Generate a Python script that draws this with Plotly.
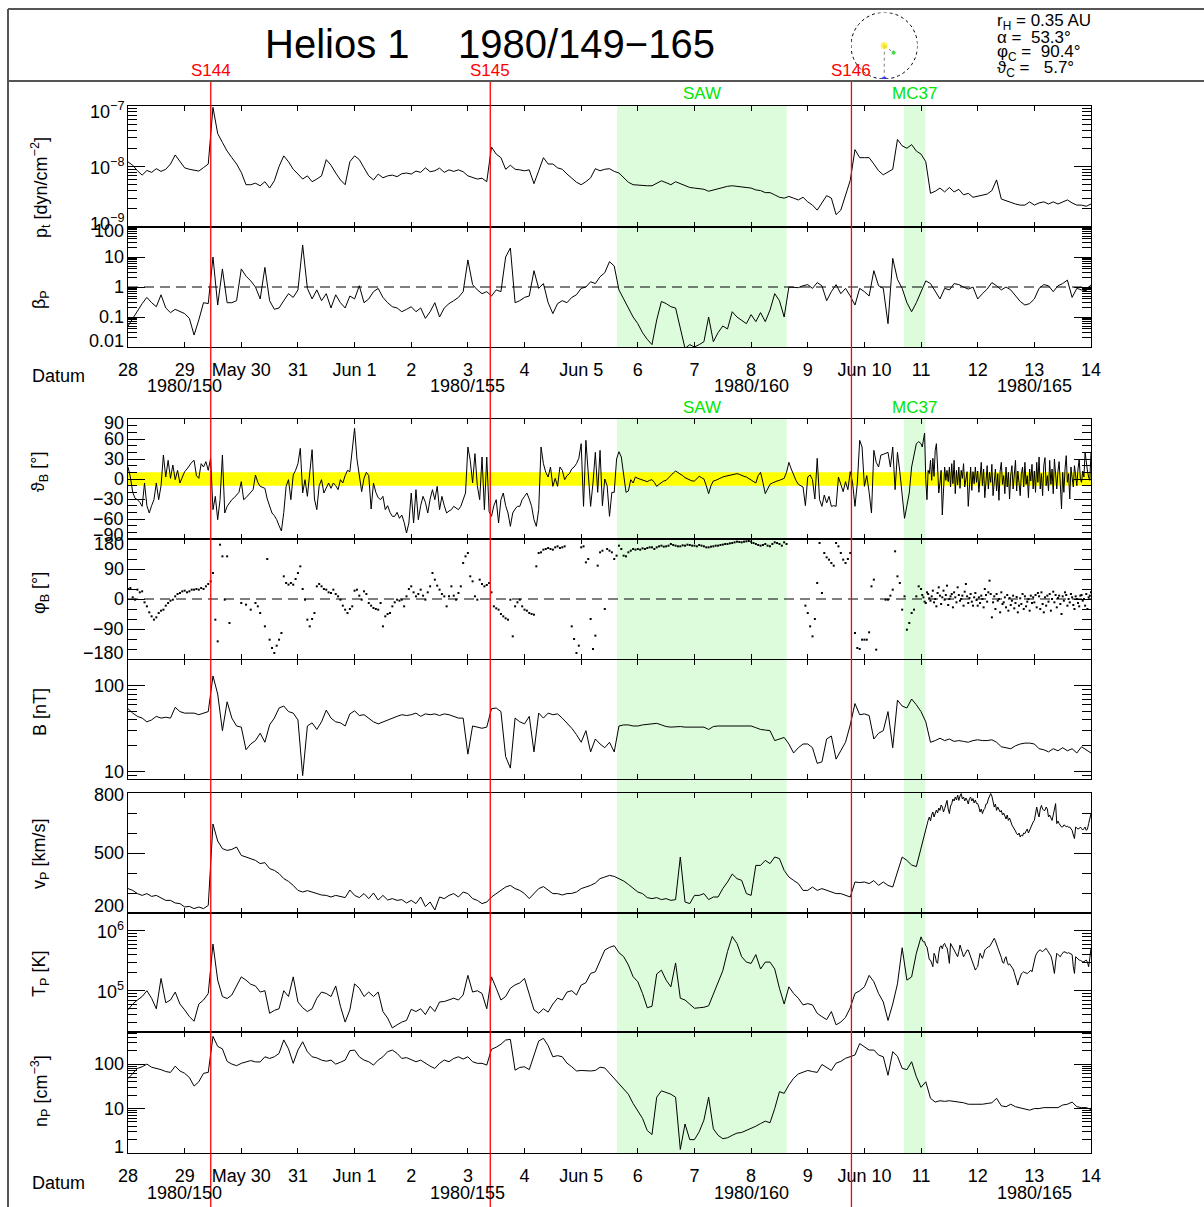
import math
import plotly.graph_objects as go

# ---------------------------------------------------------------------------
# Helios 1 plasma and magnetic field, 1980 day 149-166
# ---------------------------------------------------------------------------
# plasma moments: 2-hourly samples for the whole interval
DOY = [149 + k / 12 for k in range(205)]
# speed and temperature: 2-hourly up to day 163, half-hourly afterwards
DOY_FINE = DOY[:168] + [163 + k / 48 for k in range(145)]
# field direction: hourly up to day 163, half-hourly afterwards
DOY_ANG = [149 + k / 24 for k in range(336)] + [163 + k / 48 for k in range(145)]

# total pressure in units of 1e-9 dyn/cm^2
PT_E9 = [
    11.9, 10.5, 8.5, 7.2, 8.6, 8.0, 9.2, 8.3, 9.0, 11.0, 15.5, 12.0,
    9.5, 9.0, 8.8, 8.4, 9.6, 11.0, 95, 35, 25, 18, 14, 11,
    8.0, 5.0, 5.0, 5.3, 4.8, 5.6, 4.4, 5.8, 10.0, 15.0, 12.0, 9.0,
    7.5, 6.2, 7.0, 5.6, 6.2, 7.0, 13.0, 10.5, 7.8, 6.0, 5.0, 12.0,
    15, 13, 9.5, 7.0, 6.0, 7.5, 6.5, 7.0, 7.2, 6.8, 7.6, 7.8,
    7.5, 8.4, 8.0, 9.5, 8.2, 8.5, 9.4, 8.0, 8.8, 8.3, 8.8, 8.2,
    7.0, 6.5, 6.2, 6.4, 5.6, 21, 16, 14, 9.0, 10.5, 9.0, 8.8,
    8.5, 8.8, 5.2, 8.5, 14, 11, 11, 9.5, 9.0, 7.5, 6.5, 5.5,
    5.0, 5.6, 6.5, 9.2, 8.5, 9.0, 9.2, 8.3, 7.8, 6.5, 5.5, 5.0,
    4.9, 4.8, 4.8, 4.8, 5.2, 5.8, 5.4, 5.0, 5.6, 5.2, 4.7, 4.5,
    4.4, 4.3, 4.2, 3.9, 4.1, 4.3, 4.5, 4.7, 4.8, 4.7, 4.6, 4.4,
    4.4, 4.1, 4.0, 3.7, 3.7, 3.4, 3.1, 3.0, 3.2, 3.0, 2.8, 3.1,
    2.6, 2.3, 1.9, 2.5, 3.3, 3.0, 1.6, 1.9, 3.5, 5.9, 19, 14,
    14, 14, 11, 8.5, 7.3, 8.0, 9.0, 28, 22, 20, 23, 18,
    16, 12, 3.6, 3.9, 4.4, 3.8, 4.5, 3.8, 4.2, 3.4, 3.6, 3.1,
    3.2, 3.3, 3.5, 4.0, 6.0, 2.9, 2.7, 2.5, 2.4, 2.3, 2.3, 2.6,
    2.3, 2.5, 2.6, 2.4, 2.6, 2.4, 2.6, 2.8, 2.5, 2.3, 2.3, 2.2,
    2.4,
]

# proton beta
BETA_P = [
    0.05, 0.09, 0.15, 0.28, 0.45, 0.3, 0.22, 0.55, 0.2, 0.14, 0.18, 0.15,
    0.13, 0.09, 0.025, 0.08, 0.3, 0.28, 10, 0.25, 4.0, 0.3, 0.3, 0.35,
    4.0, 2.3, 1.6, 1.0, 0.4, 4.5, 0.35, 0.18, 0.2, 0.35, 0.6, 0.45,
    0.8, 25, 0.9, 0.4, 0.8, 0.35, 0.6, 0.2, 0.55, 0.3, 0.2, 0.5,
    0.4, 1.1, 0.3, 0.4, 0.7, 0.9, 0.45, 0.3, 0.22, 0.2, 0.15, 0.18,
    0.22, 0.15, 0.2, 0.09, 0.15, 0.3, 0.1, 0.2, 0.28, 0.35, 0.45, 0.7,
    8, 1.2, 0.8, 0.6, 0.7, 0.5, 0.8, 0.7, 10, 20, 0.3, 0.35,
    0.45, 0.5, 3.5, 0.9, 1.3, 0.3, 0.13, 0.28, 0.35, 0.3, 0.45, 0.55,
    0.9, 1.0, 1.5, 1.3, 2.2, 3.0, 7.0, 5.0, 0.8, 0.4, 0.2, 0.1,
    0.06, 0.03, 0.018, 0.012, 0.08, 0.33, 0.28, 0.22, 0.2, 0.04, 0.009, 0.012,
    0.01, 0.012, 0.015, 0.1, 0.015, 0.03, 0.05, 0.04, 0.15, 0.1, 0.08, 0.06,
    0.12, 0.07, 0.14, 0.07, 0.17, 0.6, 0.35, 0.1, 1.0, 1.0, 0.95, 1.1,
    1.2, 0.9, 1.4, 1.1, 0.35, 0.7, 1.2, 0.6, 0.9, 0.5, 0.25, 0.9,
    0.7, 0.5, 3.5, 1.1, 0.9, 0.06, 9.0, 1.8, 0.9, 0.3, 0.15, 0.3,
    0.65, 1.6, 1.3, 0.7, 0.4, 0.9, 0.8, 1.3, 1.2, 1.0, 0.85, 1.0,
    0.4, 0.6, 0.85, 1.4, 1.1, 0.8, 1.0, 0.8, 0.5, 0.33, 0.25, 0.28,
    0.4, 0.9, 1.2, 1.1, 0.7, 1.1, 1.3, 1.7, 0.45, 0.9, 0.8, 0.75,
    1.2,
]

# field latitude (deg) on DOY_ANG
THETA_B = [
    18, 3, -20, -29, -31, -35, -41, -6, -40, -51, -40, -31, -6, -31, -10, 36, 3, 28, 1, 21, -1, 13, -6, 3,
    11, 15, 21, 25, 28, 5, 1, 23, 18, 26, 13, 31, -46, -26, -61, -31, 36, -51, -41, -36, -31, -28, -24, -20,
    -4, -31, -28, -24, -20, -16, 6, -5, -11, -12, -14, -30, -41, -51, -55, -61, -70, -78, -50, -11, -1, -31, 6, 13,
    23, 46, -21, -1, -26, 10, 44, -30, -46, -10, -1, -21, -12, -6, -14, -6, -10, -16, -1, -6, 5, 13, 11, 40,
    76, 30, 5, -19, 1, 10, 5, -45, -6, -20, -28, -31, -26, -46, -40, -50, -56, -56, -50, -59, -54, -65, -81, -66,
    -21, -66, -16, -61, -40, -26, -35, -51, -30, -16, -31, -11, -46, -26, -40, -51, -48, -46, -41, -44, -46, -41, -30, -21,
    48, 28, -6, 38, -10, -31, 33, -46, 33, -49, -56, -40, -31, -66, -31, -21, -40, -51, -71, -51, -45, -41, -41, -31,
    -26, -21, -30, -41, -61, -71, -46, 48, 23, 10, 3, 18, -11, 1, -11, 18, 13, -1, 5, 8, 15, 18, 23, 31,
    53, -41, 58, 10, -41, -6, 40, -20, 43, -40, 0, -10, -56, -20, -20, 30, 41, 33, 10, -20, -18, -1, -6, 3,
    1, 0, -2, -3, -4, -2, -1, -5, -11, -8, -5, -3, -2, 2, 6, 9, 12, 10, 8, 5, 2, 0, -2, -3,
    -3, 0, 4, 2, 0, -10, -22, -10, -3, -2, 0, 2, 3, 4, 5, 6, 6, 7, 8, 7, 5, 4, 3, 1,
    -1, -4, -6, 5, 10, -5, -22, -15, -8, -6, -4, -3, -2, -1, 1, 10, 25, 15, 5, -2, -8, -10, -12, -40,
    3, 6, -1, -30, 31, -31, -41, -24, -36, -26, -41, -40, -41, 3, -10, -19, -4, -16, 11, -6, -41, -6, 58, 48,
    -11, 5, -20, -51, 43, 25, 18, 36, 37, 38, 40, 18, 48, -16, 40, 11, -26, -59, -40, -21, 18, 35, 53, 56,
    # half-hourly from day 163
    53, 48, 62, 69, -1, -31, 13, 8, 28, -2, 31, 4, 43, 53, 18, -21,
    -6, 13, -54, -12, 18, -2, 13, -4, 18, -12, 23, -7, 28, -22, 13, -9,
    18, -14, 13, 1, 23, -12, -2, 11, -41, -7, 18, -17, 11, -7, 18, -5,
    12, -20, 8, 25, -10, 15, -28, 5, 20, -15, 10, -5, 22, -25, 3, 15,
    -18, 8, -32, 12, 25, -8, 5, -22, 18, -12, 10, -30, 6, 20, -15, 2,
    28, -18, 12, -5, -25, 8, 18, -12, 25, -8, 5, -28, 15, -3, 22, -15,
    12, -20, 25, -5, 33, -15, 8, -25, 20, 32, -10, 5, -18, 28, -8, 15,
    -22, 30, 2, -15, 12, 26, -8, -45, 10, -20, 15, 35, -5, 8, -30, 18,
    2, -12, 20, 5, -10, 15, 30, 0, -5, 12, 3, 40, 22, 12, 3, -2,
    40,
]

# field longitude (deg) on DOY_ANG, None where no data
N = None
PHI_B = [
    30, 33, 5, -2, 28, 20, 23, -10, -22, -40, -52, -62, -55, -42, -35, -32, -20, -12, -5, -2, 8, 15, 18, 23,
    25, 20, 23, 28, 28, 30, 28, 33, 30, 38, 45, 53, 78, -62, -127, 163, 128, -2, 128, -72, N, N, N, N,
    -12, N, -17, N, -32, N, -12, -22, -42, N, -82, 120, -122, -147, -162, -140, -122, -102, 68, 48, 43, 48, 43, 60,
    78, 98, 30, -2, -62, -82, -60, -42, 38, 45, 38, 30, 28, 20, 18, 28, 15, 8, -2, -20, -32, -42, -30, -22,
    25, 28, 10, -2, 23, 15, -12, -20, -27, -30, -32, -12, -82, -52, -45, -42, -22, -10, -2, -5, -2, -22, 8, 30,
    38, 20, 8, 15, 28, 10, -2, 20, 38, 78, 58, 40, 28, 15, 8, -22, 8, 38, 10, -2, 18, 38, 108, 128,
    138, 68, 53, 8, -2, 58, 45, 38, 42, 48, 20, -22, -28, -32, -45, -52, -58, -62, -2, -112, -22, -10, -2, -22,
    -32, -35, -42, -45, -47, 98, 138, 140, 148, 150, 153, 150, 148, 155, 158, 153, 155, 158, N, N, -82, -120, -162, -140,
    155, 158, 110, 120, -60, -150, -110, 100, 140, 145, -30, 150, 145, 140, 120, 130, 160, 150, 130, 128, 140, 145, 150, 148,
    150, 148, 152, 150, 153, 155, 155, 150, 155, 158, 160, 157, 158, 160, 165, 162, 160, 158, 158, 161, 160, 163, 162, 160,
    160, 158, 162, 160, 158, 155, 155, 157, 158, 160, 160, 162, 163, 165, 165, 167, 168, 170, 172, 171, 170, 172, 173, 174,
    172, 168, 165, 162, 160, 162, 165, 160, 158, 165, 170, 168, 165, 160, 170, 165, N, N, N, N, N, N, N, -20,
    -42, -82, -112, -60, 48, 168, 18, 138, 125, 118, 108, 100, 168, 158, 138, 118, 108, 120, 138, N, -102, -147, -150, -122,
    -122, -122, -100, 38, 58, -152, N, N, N, -2, -2, 10, 28, 143, 68, 48, -32, 8, -92, -72, -42, -32, 8, 38,
    # half-hourly from day 163
    30, 12, 5, -8, -12, 20, 15, 2, -5, 8, 25, -10, 0, -22, 18, 35,
    10, -15, 5, 25, -2, 12, 40, -18, 0, 8, 15, -25, 20, 5, -10, 35,
    12, -5, 0, 10, -20, 22, 45, 8, -12, 3, 15, -8, -20, 5, 18, -3,
    -20, 5, -12, 10, 0, -25, 30, 12, -8, 20, 55, 15, -55, -10, 8, -30,
    15, -5, 0, -40, 20, -15, -10, 5, -25, 12, -35, 3, -18, -5, 10, -28,
    -12, 6, -40, -20, 2, -15, 15, -30, 8, -22, -8, 0, -35, 10, -12, 5,
    -10, 12, -25, 18, 8, -30, 20, -15, -40, 5, -20, 10, -8, 15, -35, 0,
    22, -10, 12, -25, 3, 10, -15, -45, 8, -5, 20, 12, -20, 0, -10, 15,
    5, -18, -30, 8, 0, -12, -22, 10, 12, -5, 0, -20, 15, -30, 5, 10,
    20,
]

# field magnitude (nT)
B_NT = [
    54, 48, 44, 42, 38, 40, 44, 42, 43, 42, 56, 50,
    48, 48, 48, 46, 48, 50, 130, 80, 30, 65, 42, 34,
    33, 18, 21, 23, 28, 22, 35, 42, 55, 58, 50, 48,
    40, 9, 34, 37, 31, 38, 52, 42, 38, 37, 34, 47,
    51, 45, 46, 42, 38, 36, 38, 40, 42, 44, 46, 45,
    46, 48, 44, 47, 46, 47, 45, 47, 46, 44, 42, 42,
    16, 34, 33, 32, 33, 54, 55, 50, 15, 11, 42, 38,
    36, 44, 17, 48, 42, 48, 46, 47, 42, 37, 32, 27,
    22, 30, 17, 24, 21, 19, 22, 17, 34, 35, 35, 34,
    34, 35, 35.5, 36, 36.5, 35, 33.5, 33, 33.5, 33.5, 33, 33,
    33, 33, 33, 31, 33.5, 34, 34, 34.5, 34.5, 34.5, 34.5, 34,
    34, 32.5, 31, 30.5, 30, 23, 24, 25, 21, 16.5, 19, 21,
    21, 19, 12.5, 13, 24, 26, 14, 17.5, 22, 35, 62, 46,
    47, 45, 24, 28, 30, 50, 19, 68, 58, 55, 70, 60,
    50, 38, 22, 23, 24.5, 23, 24, 22.5, 23, 22.5, 22, 23,
    23.5, 23, 23, 23.5, 22, 19.5, 19, 18.5, 20, 21, 21.5, 21.5,
    21, 18.5, 18, 17, 18.5, 17.5, 19, 17.5, 18.5, 16.5, 19.5, 18,
    16.5,
]

# proton bulk speed (km/s) on DOY_FINE
V_P = [
    322, 313, 297, 288, 297, 283, 288, 277, 263, 263, 250, 247,
    230, 233, 222, 230, 222, 238, 645, 560, 522, 513, 518, 530,
    488, 480, 472, 463, 447, 452, 422, 413, 397, 372, 358, 338,
    313, 305, 312, 305, 297, 290, 288, 280, 288, 282, 277, 315,
    288, 277, 297, 272, 300, 265, 288, 265, 272, 263, 267, 250,
    263, 247, 280, 232, 255, 215, 280, 272, 288, 297, 280, 305,
    297, 272, 263, 247, 255, 280, 297, 313, 330, 338, 322, 313,
    297, 272, 297, 322, 332, 313, 297, 297, 290, 297, 298, 305,
    322, 330, 338, 350, 372, 380, 388, 383, 372, 360, 343, 322,
    305, 297, 277, 272, 277, 267, 272, 263, 267, 480, 255, 247,
    288, 288, 297, 267, 280, 280, 322, 355, 395, 372, 363, 297,
    288, 438, 438, 463, 447, 480, 472, 413, 380, 363, 347, 313,
    313, 330, 313, 322, 313, 305, 297, 297, 288, 280, 355, 352,
    355, 347, 362, 338, 355, 338, 330, 400, 480, 463, 440, 432,
    # half-hourly from day 163
    530, 545, 570, 600, 625, 650, 663, 680, 660, 690, 705, 680, 697, 715, 700, 725,
    713, 740, 730, 705, 722, 745, 763, 720, 697, 735, 747, 770, 760, 780, 765, 790,
    763, 785, 797, 770, 780, 760, 775, 763, 745, 772, 780, 760, 772, 750, 765, 747,
    747, 730, 705, 720, 697, 715, 722, 745, 747, 770, 780, 797, 785, 760, 730, 745,
    713, 730, 720, 705, 713, 690, 700, 688, 670, 690, 663, 675, 650, 640, 630, 615,
    610, 597, 590, 600, 580, 590, 585, 600, 597, 610, 620, 600, 615, 630, 640, 655,
    663, 700, 730, 700, 680, 720, 738, 720, 713, 713, 730, 720, 680, 690, 672, 663,
    690, 720, 747, 647, 660, 647, 640, 630, 630, 640, 638, 630, 635, 628, 630, 620,
    613, 590, 572, 630, 625, 620, 622, 630, 622, 615, 622, 630, 613, 620, 647, 680,
    697,
]

# proton temperature in units of 1e3 K on DOY_FINE
T_P_KK = [
    48, 60, 70, 80, 100, 75, 50, 160, 63, 70, 95, 60,
    48, 37, 31, 60, 70, 90, 600, 150, 80, 74, 85, 120,
    170, 150, 128, 120, 95, 100, 42, 47, 50, 100, 80, 170,
    65, 52, 45, 50, 75, 95, 90, 80, 120, 55, 30, 48,
    130, 110, 80, 95, 80, 95, 45, 35, 24, 27, 30, 32,
    49, 45, 50, 40, 55, 45, 65, 66, 70, 75, 70, 85,
    180, 95, 100, 90, 50, 170, 110, 70, 80, 110, 125, 135,
    160, 90, 48, 42, 50, 44, 60, 75, 70, 95, 100, 85,
    124, 136, 194, 207, 324, 476, 527, 562, 430, 370, 268, 171,
    141, 90, 52, 55, 190, 220, 150, 116, 290, 75, 70, 60,
    51, 52, 53, 56, 90, 140, 215, 450, 800, 614, 368, 300,
    285, 400, 230, 300, 300, 230, 110, 60, 116, 90, 75, 58,
    61, 58, 42, 37, 33, 45, 27, 30, 36, 52, 90, 100,
    116, 180, 141, 90, 65, 32, 60, 130, 520, 150, 170, 420,
    # half-hourly from day 163
    790, 700, 650, 655, 560, 540, 420, 330, 324, 280, 251, 420, 380, 300, 286, 420,
    540, 560, 500, 590, 614, 540, 520, 400, 286, 614, 560, 500, 476, 430, 400, 368,
    450, 577, 500, 420, 368, 400, 430, 476, 476, 420, 350, 324, 290, 250, 221, 240,
    251, 330, 420, 380, 346, 400, 476, 500, 520, 540, 540, 580, 614, 680, 745, 680,
    614, 520, 460, 420, 360, 300, 286, 340, 368, 300, 268, 280, 260, 251, 230, 200,
    171, 150, 124, 150, 171, 190, 200, 207, 200, 194, 194, 200, 207, 220, 207, 260,
    324, 380, 420, 450, 470, 476, 460, 447, 470, 490, 508, 470, 440, 420, 380, 324,
    250, 194, 300, 420, 400, 380, 368, 400, 430, 447, 440, 430, 420, 430, 420, 420,
    400, 250, 194, 368, 350, 330, 324, 320, 310, 304, 304, 320, 324, 300, 251, 350,
    508,
]

# proton density (cm^-3)
N_P = [
    47, 62, 80, 87, 100, 85, 80, 75, 68, 65, 90, 70,
    62, 50, 32, 40, 62, 65, 420, 250, 220, 115, 100, 92,
    104, 110, 120, 112, 112, 146, 134, 146, 174, 350, 220, 104,
    207, 318, 190, 146, 138, 123, 116, 123, 100, 110, 123, 200,
    207, 146, 123, 113, 95, 123, 146, 190, 207, 174, 134, 140,
    125, 113, 123, 104, 90, 80, 104, 123, 113, 134, 146, 130,
    146, 113, 104, 104, 95, 215, 240, 280, 348, 360, 73, 84,
    87, 75, 150, 330, 380, 260, 146, 155, 146, 105, 87, 70,
    72, 70, 70, 72, 85, 82, 62, 48, 36, 27, 21, 13,
    9, 6.0, 3.2, 2.6, 18, 25, 23, 21, 18, 1.2, 4.5, 2.0,
    2.0, 3.0, 5.5, 18, 3.5, 2.5, 2.1, 2.2, 2.5, 2.8, 2.9, 3.2,
    3.5, 4.0, 4.6, 5.2, 4.8, 10, 24, 22, 34, 48, 60, 65,
    72, 68, 65, 98, 85, 72, 105, 115, 135, 146, 160, 290,
    246, 207, 207, 160, 146, 56, 190, 150, 80, 75, 113, 52,
    30, 40, 17, 14, 15, 14.5, 15, 14.5, 14.5, 13.5, 12.5, 12.5,
    12.5, 12.5, 13, 13.5, 17, 11.5, 11, 12.5, 11, 10.5, 9.8, 9.2,
    10, 10, 10.5, 10.5, 10.5, 10.5, 12, 12.5, 14, 11, 10.5, 10.5,
    9.5,
]

for series in (PT_E9, BETA_P, B_NT, N_P):
    assert len(series) == len(DOY)
for series in (V_P, T_P_KK):
    assert len(series) == len(DOY_FINE)
for series in (THETA_B, PHI_B):
    assert len(series) == len(DOY_ANG)

# events
SHOCK_NAMES = ["S144", "S145", "S146"]
SHOCK_DOY = [150.461, 155.395, 161.771]
REGION_NAMES = ["SAW", "MC37"]
REGION_START = [157.631, 162.697]
REGION_END = [160.629, 163.078]

# date axis
DAY_TICKS = list(range(149, 167))
DAY_LABELS = ["28", "29", "May 30", "31", "Jun 1", "2", "3", "4", "Jun 5",
              "6", "7", "8", "9", "Jun 10", "11", "12", "13", "14"]
YEAR_TICKS = [150, 155, 160, 165]
YEAR_LABELS = ["1980/150", "1980/155", "1980/160", "1980/165"]

# spacecraft position
R_H = 0.35
ALPHA = 53.3
PHI_C = 90.4
THETA_C = 5.7

# ---------------------------------------------------------------------------
W, H = 1204, 1207
FONT = "Liberation Sans, Arial, Helvetica, sans-serif"
X_LEFT, X_RIGHT = 128, 1091
AXIS_W = 1.2


def px(x):
    return x / W


def py(y):
    return 1 - y / H


def decades(exps, upper=None):
    vals = [m * 10.0 ** e for e in exps for m in range(2, 10)]
    return [v for v in vals if upper is None or v <= upper]


def sup(s):
    return f"<sup>{s}</sup>"


# per panel: data, pixel extent, scale, ticks, tick-label nudges (px, +up)
panels = [
    dict(x=DOY, y=[v * 1e-9 for v in PT_E9], top=106, bot=227, log=True, rng=[-9, -7],
         ticks=[1e-9, 1e-8, 1e-7],
         labels=["10" + sup("−9"), "10" + sup("−8"), "10" + sup("−7")],
         nudge=[4, 0, -5], minor=decades([-9, -8]),
         title="p<sub>t</sub> [dyn/cm" + sup("−2") + "]", ty=188),
    dict(x=DOY, y=BETA_P, top=227, bot=347, log=True, rng=[-2, 2],
         ticks=[0.01, 0.1, 1, 10, 100], labels=["0.01", "0.1", "1", "10", "100"],
         nudge=[6, 0, 0, 0, -4], minor=decades([-2, -1, 0, 1]),
         title="β<sub>P</sub>", ty=300),
    dict(x=DOY_ANG, y=THETA_B, top=419, bot=539, log=False, rng=[-90, 90],
         ticks=[-90, -60, -30, 0, 30, 60, 90],
         labels=["−90", "−60", "−30", "0", "30", "60", "90"],
         nudge=[4, 0, 0, 0, 0, 0, -4],
         minor=[-80, -70, -50, -40, -20, -10, 10, 20, 40, 50, 70, 80],
         title="ϑ<sub>B</sub> [°]", ty=472),
    dict(x=DOY_ANG, y=PHI_B, top=539, bot=659, log=False, rng=[-180, 180],
         ticks=[-180, -90, 0, 90, 180], labels=["−180", "−90", "0", "90", "180"],
         nudge=[6, 0, 0, 0, -5], minor=[-150, -120, -60, -30, 30, 60, 120, 150],
         title="φ<sub>B</sub> [°]", ty=593, dots=True),
    dict(x=DOY, y=B_NT, top=660, bot=779, log=True, rng=[0.915, 2.299],
         ticks=[10, 100], labels=["10", "100"], nudge=[0, 0],
         minor=[9] + decades([1]),
         title="B [nT]", ty=712),
    dict(x=DOY_FINE, y=V_P, top=793, bot=913, log=False, rng=[200, 800],
         ticks=[200, 500, 800], labels=["200", "500", "800"], nudge=[7, 0, -2],
         minor=[300, 400, 600, 700],
         title="v<sub>P</sub> [km/s]", ty=854),
    dict(x=DOY_FINE, y=[v * 1e3 for v in T_P_KK], top=913, bot=1032, log=True,
         rng=[4.312, 6.295], ticks=[1e5, 1e6], labels=["10" + sup("5"), "10" + sup("6")],
         nudge=[0, 0], minor=[v for v in decades([4, 5, 6]) if 2.1e4 <= v <= 1.9e6],
         title="T<sub>P</sub> [K]", ty=974),
    dict(x=DOY, y=N_P, top=1032, bot=1153, log=True, rng=[0, 2.722],
         ticks=[1, 10, 100], labels=["1", "10", "100"], nudge=[6, 0, 0],
         minor=decades([0, 1, 2], upper=520),
         title="n<sub>P</sub> [cm" + sup("−3") + "]", ty=1091),
]

fig = go.Figure()
layout = dict(
    width=W, height=H, margin=dict(l=0, r=0, t=0, b=0),
    paper_bgcolor="white", plot_bgcolor="rgba(0,0,0,0)",
    font=dict(family=FONT, size=18, color="black"),
    showlegend=False, template="none",
)

shapes = []
annotations = []

for i, p in enumerate(panels):
    k = i + 1
    sfx = "" if k == 1 else str(k)
    xa, ya = "x" + sfx, "y" + sfx
    labelled = k in (2, 8)
    layout["xaxis" + sfx] = dict(
        domain=[px(X_LEFT), px(X_RIGHT)], range=[149, 166], anchor=ya,
        tickmode="array", tickvals=DAY_TICKS, ticktext=DAY_LABELS,
        showticklabels=labelled, ticks="inside", ticklen=5, tickwidth=1.2,
        tickcolor="black", showline=True, linecolor="black", linewidth=AXIS_W,
        mirror="ticks", showgrid=False, zeroline=False,
        ticklabelstandoff=6, tickfont=dict(size=18),
    )
    layout["yaxis" + sfx] = dict(
        domain=[py(p["bot"]), py(p["top"])], anchor=xa,
        type="log" if p["log"] else "linear", range=p["rng"],
        tickmode="array", tickvals=p["ticks"], showticklabels=False,
        ticks="inside", ticklen=17, tickwidth=1.2, tickcolor="black",
        minor=dict(tickmode="array", tickvals=p["minor"], ticks="inside",
                   ticklen=9, tickwidth=1, tickcolor="black", showgrid=False),
        showline=True, linecolor="black", linewidth=AXIS_W, mirror="ticks",
        showgrid=False, zeroline=False,
    )
    # tick labels placed on the axis scale, kept inside the panel at the ends
    for v, lab, dy in zip(p["ticks"], p["labels"], p["nudge"]):
        annotations.append(dict(
            x=px(126), y=math.log10(v) if p["log"] else v, xref="paper", yref=ya,
            text=lab, showarrow=False, xanchor="right", yanchor="middle", yshift=dy,
            font=dict(size=18)))
    if p.get("dots"):
        fig.add_trace(go.Scatter(
            x=p["x"], y=p["y"], xaxis=xa, yaxis=ya, mode="markers",
            marker=dict(color="black", size=2, symbol="square"),
            hoverinfo="skip"))
    else:
        fig.add_trace(go.Scatter(
            x=p["x"], y=p["y"], xaxis=xa, yaxis=ya, mode="lines",
            line=dict(color="black", width=1), hoverinfo="skip"))
    annotations.append(dict(
        x=px(40), y=py(p["ty"]), xref="paper", yref="paper", text=p["title"],
        textangle=-90, showarrow=False, xanchor="center", yanchor="middle",
        font=dict(size=18)))

# reference levels: beta = 1, phi = 0
fig.add_trace(go.Scatter(x=[149, 166], y=[1, 1], xaxis="x2", yaxis="y2", mode="lines",
                         line=dict(color="black", width=1, dash="10px,6px"),
                         hoverinfo="skip"))
fig.add_trace(go.Scatter(x=[149, 166], y=[0, 0], xaxis="x4", yaxis="y4", mode="lines",
                         line=dict(color="black", width=1, dash="10px,6px"),
                         hoverinfo="skip"))

# event intervals
for name, a, b in zip(REGION_NAMES, REGION_START, REGION_END):
    for top, bot in ((106, 347), (419, 1153)):
        shapes.append(dict(type="rect", xref="x", yref="paper", x0=a, x1=b,
                           y0=py(bot), y1=py(top), fillcolor="rgb(220,252,220)",
                           line=dict(width=0), layer="below"))
    for ylab in (94, 407):
        annotations.append(dict(x=(a + b) / 2, y=py(ylab), xref="x", yref="paper",
                                text=name, showarrow=False, xanchor="center",
                                yanchor="middle", font=dict(size=17, color="rgb(0,230,0)")))

# yellow band |theta| < 10 deg, on top of the interval shading
shapes.append(dict(type="rect", xref="x3 domain", yref="y3", x0=0, x1=1, y0=-10, y1=10,
                   fillcolor="rgb(255,255,0)", line=dict(width=0), layer="below"))

# shocks
for name, t in zip(SHOCK_NAMES, SHOCK_DOY):
    shapes.append(dict(type="line", xref="x", yref="paper", x0=t, x1=t, y0=0, y1=py(81),
                       line=dict(color="rgb(255,0,0)", width=1.3), layer="above"))
    annotations.append(dict(x=t, y=py(70), xref="x", yref="paper", text=name,
                            showarrow=False, xanchor="center", yanchor="middle",
                            font=dict(size=17, color="red")))

# year / day-of-year labels under the date axes
for xa, ylab in (("x2", 386), ("x8", 1193)):
    for t, lab in zip(YEAR_TICKS, YEAR_LABELS):
        annotations.append(dict(x=t, y=py(ylab), xref=xa, yref="paper", text=lab,
                                showarrow=False, xanchor="center", yanchor="middle",
                                font=dict(size=18)))
    annotations.append(dict(x=px(58), y=py(ylab - 10), xref="paper", yref="paper",
                            text="Datum", showarrow=False, xanchor="center",
                            yanchor="middle", font=dict(size=18)))

# header frame
frame = dict(color="#555555", width=2)
shapes += [
    dict(type="line", xref="paper", yref="paper", x0=px(8), x1=1, y0=py(9), y1=py(9), line=frame),
    dict(type="line", xref="paper", yref="paper", x0=px(8), x1=1, y0=py(81), y1=py(81), line=frame),
    dict(type="line", xref="paper", yref="paper", x0=px(8), x1=px(8), y0=0, y1=py(9), line=frame),
]

annotations.append(dict(x=px(263), y=py(44), xref="paper", yref="paper", text="Helios 1",
                        showarrow=False, xanchor="left", yanchor="middle", font=dict(size=40)))
annotations.append(dict(x=px(456), y=py(44), xref="paper", yref="paper",
                        text="1980/149−165", showarrow=False, xanchor="left",
                        yanchor="middle", font=dict(size=40)))

info = [
    (22, f"r<sub>H</sub> = {R_H:.2f} AU"),
    (37, f"α =\u00a0\u00a0{ALPHA:.1f}°"),
    (53, f"φ<sub>C</sub> =\u00a0\u00a0{PHI_C:.1f}°"),
    (69, f"ϑ<sub>C</sub> =\u00a0\u00a0\u00a0{THETA_C:.1f}°"),
]
for yy, txt in info:
    annotations.append(dict(x=px(995), y=py(yy), xref="paper", yref="paper", text=txt,
                            showarrow=False, xanchor="left", yanchor="middle",
                            font=dict(size=17)))

# orbit sketch: Sun at centre, 1 AU circle, Earth below, Helios at (r_H, alpha)
hx = R_H * math.sin(math.radians(ALPHA))
hy = -R_H * math.cos(math.radians(ALPHA))
layout["xaxis9"] = dict(domain=[px(851), px(917.5)], range=[-1, 1], anchor="y9", visible=False)
layout["yaxis9"] = dict(domain=[py(79), py(12.4)], range=[-1, 1], anchor="x9", visible=False)
shapes.append(dict(type="circle", xref="x9", yref="y9", x0=-1, x1=1, y0=-1, y1=1,
                   line=dict(color="black", width=1, dash="dot")))
fig.add_trace(go.Scatter(x=[0, hx], y=[0, hy], xaxis="x9", yaxis="y9", mode="lines",
                         line=dict(color="gray", width=1, dash="dot"), hoverinfo="skip"))
fig.add_trace(go.Scatter(x=[0, 0], y=[0, -1], xaxis="x9", yaxis="y9", mode="lines",
                         line=dict(color="gray", width=1, dash="dot"), hoverinfo="skip"))
fig.add_trace(go.Scatter(x=[0, hx, 0], y=[0, hy, -1], xaxis="x9", yaxis="y9", mode="markers",
                         marker=dict(color=["rgb(255,235,0)", "rgb(0,200,0)", "rgb(0,0,255)"],
                                     size=[8, 5, 6]), hoverinfo="skip"))

layout["shapes"] = shapes
layout["annotations"] = annotations
fig.update_layout(**layout)
fig.write_html("out.html")
